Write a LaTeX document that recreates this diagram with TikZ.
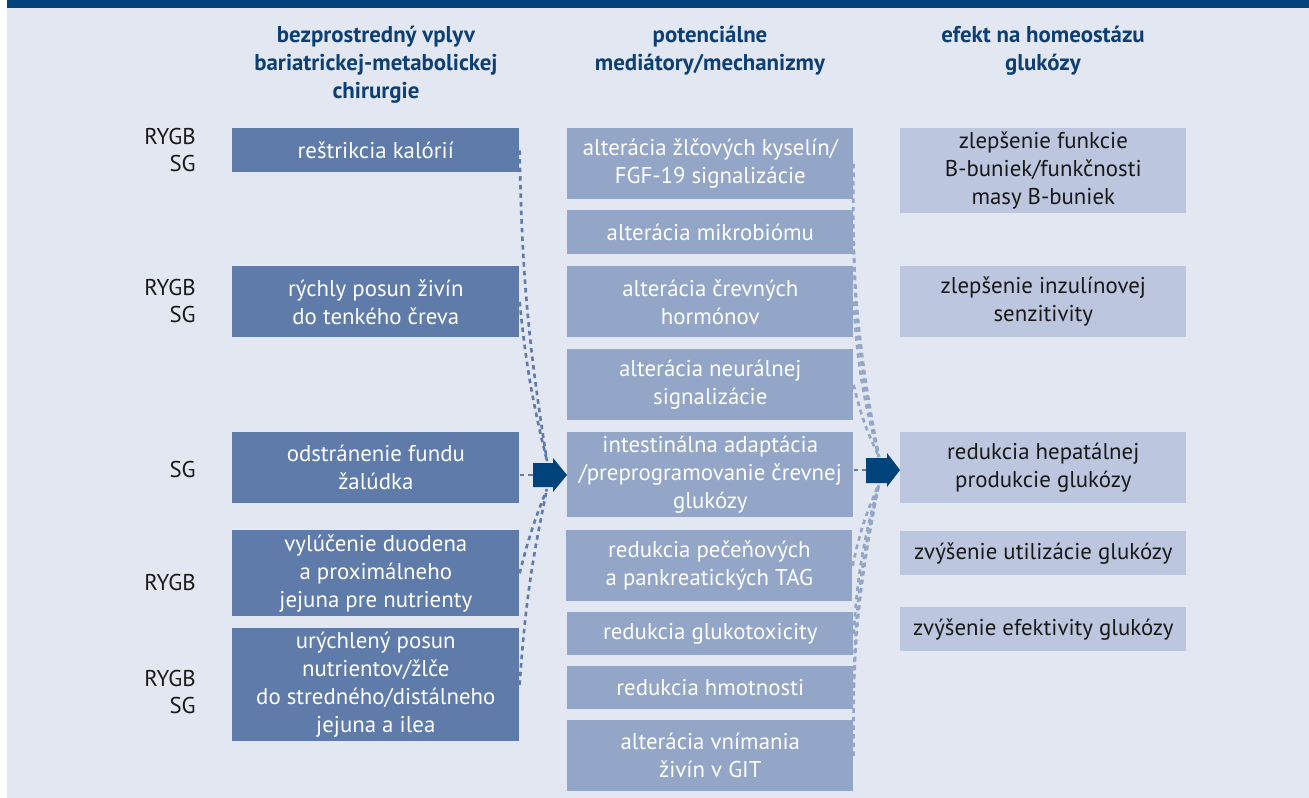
\documentclass[tikz,border=0pt]{standalone}
\usepackage{fontspec}
\setmainfont{PT Sans}
\usetikzlibrary{positioning}
\definecolor{bgblue}{HTML}{E3E7F1}
\definecolor{barblue}{HTML}{00427A}
\definecolor{surgblue}{HTML}{5F7BAA}
\definecolor{medblue}{HTML}{93A6C8}
\definecolor{effblue}{HTML}{BDC6DF}
\definecolor{headblue}{HTML}{0D3F73}
\tikzset{
box/.style={anchor=north west, inner sep=0pt, align=center, font=\fontsize{13}{15.9}\selectfont},
surg/.style={box, fill=surgblue, text=white, minimum width=5.74cm},
medi/.style={box, fill=medblue, text=white, minimum width=5.72cm},
eff/.style={box, fill=effblue, text=black!90, minimum width=5.72cm},
head/.style={anchor=north, align=center, text=headblue, font=\fontsize{13}{15.9}\selectfont\bfseries},
proc/.style={anchor=east, align=right, inner sep=0pt, text=black!90, font=\fontsize{13}{15.9}\selectfont},
link/.style={dash pattern=on 2.6pt off 2.3pt, line width=1.5pt}
}
\begin{document}
\begin{tikzpicture}[x=0.02cm, y=-0.02cm]
   \useasboundingbox (0,0) rectangle (1309,798);
   \fill[bgblue] (7,0) rectangle (1309,798);
   \fill[barblue] (7,0) rectangle (1309,8);
   % headings
   \node[head] (h1) at (376,20) {bezprostredný vplyv\\bariatrickej-metabolickej\\chirurgie};
   \node[head] (h2) at (710,20) {potenciálne\\mediátory/mechanizmy};
   \node[head] (h3) at (1043,20) {efekt na homeostázu\\glukózy};
   % procedures
   \node[proc] (p1) at (196,150) {RYGB\\SG};
   \node[proc] (p2) at (196,301) {RYGB\\SG};
   \node[proc] (p3) at (196,469) {SG};
   \node[proc] (p4) at (196,582) {RYGB};
   \node[proc] (p5) at (196,692) {RYGB\\SG};
   % surgery
   \node[surg, minimum height=0.88cm] (kal) at (232,128) {reštrikcia kalórií};
   \node[surg, minimum height=1.42cm] (posun) at (232,266) {rýchly posun živín\\do tenkého čreva};
   \node[surg, minimum height=1.42cm] (fund) at (232,432) {odstránenie fundu\\žalúdka};
   \node[surg, minimum height=1.72cm] (duod) at (232,530) {vylúčenie duodena\\a proximálneho\\jejuna pre nutrienty};
   \node[surg, minimum height=2.26cm] (ilea) at (232,628) {urýchlený posun\\nutrientov/žlče\\do stredného/distálneho\\jejuna a ilea};
   % mediators
   \node[medi, minimum height=1.42cm] (kys) at (567,128) {alterácia žlčových kyselín/\\FGF-19 signalizácie};
   \node[medi, minimum height=0.88cm] (mikro) at (567,210) {alterácia mikrobiómu};
   \node[medi, minimum height=1.42cm] (horm) at (567,266) {alterácia črevných\\hormónov};
   \node[medi, minimum height=1.42cm] (neur) at (567,349) {alterácia neurálnej\\signalizácie};
   \node[medi, minimum height=1.70cm] (adapt) at (567,432) {intestinálna adaptácia\\/preprogramovanie črevnej\\glukózy};
   \node[medi, minimum height=1.42cm] (tag) at (566,530) {redukcia pečeňových\\a pankreatických TAG};
   \node[medi, minimum height=0.86cm] (toxi) at (567,612) {redukcia glukotoxicity};
   \node[medi, minimum height=0.86cm] (hmot) at (567,666) {redukcia hmotnosti};
   \node[medi, minimum height=1.42cm] (git) at (567,720) {alterácia vnímania\\živín v GIT};
   % effects
   \node[eff, minimum height=1.70cm] (beta) at (900,128) {zlepšenie funkcie\\B-buniek/funkčnosti\\masy B-buniek};
   \node[eff, minimum height=1.42cm] (inzul) at (900,266) {zlepšenie inzulínovej\\senzitivity};
   \node[eff, minimum height=1.42cm] (hepat) at (900,432) {redukcia hepatálnej\\produkcie glukózy};
   \node[eff, minimum height=0.88cm] (util) at (900,531) {zvýšenie utilizácie glukózy};
   \node[eff, minimum height=0.88cm] (efekt) at (900,607) {zvýšenie efektivity glukózy};
   % dashed links
   \coordinate (inL) at (547,461); \coordinate (outL) at (547,489); \coordinate (tailL) at (533,475);
   \coordinate (inR) at (879,457); \coordinate (outR) at (879,484); \coordinate (tailR) at (866,470);
   \foreach \n in {kal,posun}
      \draw[link, surgblue] (\n.east) to[bend right=4] (inL);
   \foreach \n in {duod,ilea}
      \draw[link, surgblue] (\n.east) to[bend left=4] (outL);
   \draw[link, surgblue] (fund.east |- tailL) -- (tailL);
   \foreach \n in {kys,mikro,horm,neur}
      \draw[link, medblue] (\n.east) to[bend right=6] (inR);
   \foreach \n in {tag,toxi,hmot,git}
      \draw[link, medblue] (\n.east) to[bend left=6] (outR);
   \draw[link, surgblue] (adapt.east |- tailR) -- (tailR);
   % arrows
   \fill[barblue] (533,463) -- (553,463) -- (553,458) -- (567,475) -- (553,492) -- (553,487) -- (533,487) -- cycle;
   \fill[barblue] (866,458) -- (887,458) -- (887,453) -- (900,470) -- (887,487) -- (887,483) -- (866,483) -- cycle;
\end{tikzpicture}
\end{document}
